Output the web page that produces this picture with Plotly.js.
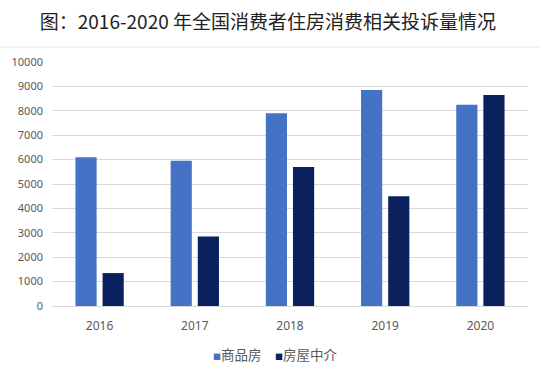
<!DOCTYPE html>
<html><head><meta charset="utf-8">
<script src="https://cdn.plot.ly/plotly-3.0.1.min.js"></script>
<style>html,body{margin:0;padding:0;background:#fff;}#chart{width:539px;height:369px;}</style>
</head><body><div id="chart"></div>
<script>
const years = ['2016','2017','2018','2019','2020'];
const commercialHousing = [6100, 5950, 7900, 8850, 8250];
const housingAgency = [1350, 2850, 5700, 4500, 8650];
const seriesNames = ['商品房', '房屋中介'];
const seriesColors = ['#4472C4', '#0B215E'];
const titleText = '图：2016-2020 年全国消费者住房消费相关投诉量情况';

const font = '"Noto Sans", sans-serif';
const data = [
  {type:'bar', name: seriesNames[0], x: years, y: commercialHousing, marker:{color:seriesColors[0]}},
  {type:'bar', name: seriesNames[1], x: years, y: housingAgency, marker:{color:seriesColors[1]}}
];
const legendX = [0.3334, 0.4637];
const annotations = seriesNames.map((n, i) => ({
  xref:'paper', yref:'paper', x:legendX[i], y:-0.197, xanchor:'left', yanchor:'middle', showarrow:false,
  text:'<span style="color:' + seriesColors[i] + ';font-size:8px">■</span>' + n,
  font:{family:'"Noto Sans CJK SC", sans-serif', size:13.5, color:'#595959'}
}));
const layout = {
  width:539, height:369,
  margin:{l:52, r:11, t:62, b:63},
  paper_bgcolor:'#fff', plot_bgcolor:'#fff',
  barmode:'group', bargap:0.43, bargroupgap:0.22,
  title:{text:titleText, x:0.497, xanchor:'center', y:0.94, yanchor:'middle',
    font:{family:'"Noto Sans CJK SC", serif', size:19, color:'#222'}},
  xaxis:{type:'category', showgrid:false, showline:false, ticks:'',
    tickfont:{family:font, size:12, color:'#595959'}, ticklabelstandoff:11},
  yaxis:{range:[0,10000], dtick:1000, tickformat:'d', showgrid:true, gridcolor:'#D9D9D9', gridwidth:1,
    zeroline:true, zerolinecolor:'#D9D9D9', zerolinewidth:1, showline:false, ticks:'',
    tickfont:{family:font, size:11, color:'#595959'}, ticklabelstandoff:8},
  annotations: annotations,
  shapes:[{type:'line', xref:'paper', yref:'paper', x0:-0.2, x1:1.1, y0:(306-47)/244, y1:(306-47)/244,
    line:{color:'#E6E6E6', width:1}}],
  showlegend:false
};
Plotly.newPlot('chart', data, layout, {displayModeBar:false, staticPlot:true});
</script></body></html>
